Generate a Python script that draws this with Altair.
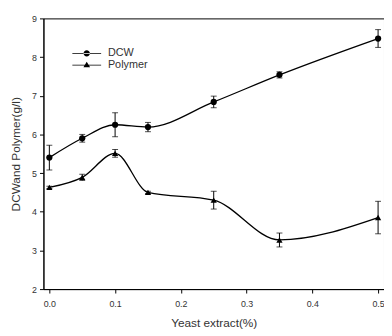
import altair as alt
import pandas as pd

x_vals = [0.0, 0.05, 0.1, 0.15, 0.25, 0.35, 0.5]
dcw = [5.40, 5.90, 6.25, 6.19, 6.84, 7.54, 8.48]
dcw_err = [0.32, 0.10, 0.31, 0.12, 0.15, 0.08, 0.23]
polymer = [4.63, 4.89, 5.51, 4.50, 4.30, 3.27, 3.85]
polymer_err = [0.03, 0.08, 0.10, 0.03, 0.23, 0.18, 0.42]
series_names = ["DCW", "Polymer"]
x_ticks = [0.0, 0.1, 0.2, 0.3, 0.4, 0.5]
y_ticks = [2, 3, 4, 5, 6, 7, 8, 9]

rows = []
for s, vals, errs in [("DCW", dcw, dcw_err), ("Polymer", polymer, polymer_err)]:
    for xv, v, e in zip(x_vals, vals, errs):
        rows.append({"x": xv, "y": v, "lo": v - e, "hi": v + e, "series": s})
df = pd.DataFrame(rows)

FONT = "Liberation Sans"
TXT = "#333333"

xscale = alt.Scale(domain=[-0.009, 0.509], nice=False, zero=False)
yscale = alt.Scale(domain=[2, 9], nice=False, zero=False)
xaxis = alt.Axis(values=x_ticks, format=".1f", title="Yeast extract(%)",
                 grid=False, tickSize=4, labelPadding=7, titlePadding=9)
yaxis = alt.Axis(values=y_ticks, format="d", title="DCWand Polymer(g/l)",
                 grid=False, tickSize=4, labelPadding=3, titlePadding=9)

xenc = alt.X("x:Q", scale=xscale, axis=xaxis)
yenc = alt.Y("y:Q", scale=yscale, axis=yaxis)

base = alt.Chart(df)

lines = base.mark_line(color="black", strokeWidth=1.3, interpolate="monotone").encode(
    x=xenc, y=yenc, detail="series:N")

err = base.mark_errorbar(ticks=alt.TickConfig(size=6, thickness=1), color="black", thickness=1).encode(
    x=xenc, y=alt.Y("lo:Q", scale=yscale, axis=yaxis), y2="hi:Q")

points = base.mark_point(filled=True, color="black", size=40, opacity=1).encode(
    x=xenc, y=yenc,
    shape=alt.Shape("series:N", scale=alt.Scale(domain=series_names, range=["circle", "triangle-up"]),
                    legend=None))

# legend glyphs: thin filled bar + marker (all filled)
dcw_sym = ("M-2.25,-0.05L2.25,-0.05L2.25,0.05L-2.25,0.05Z"
           "M-0.5,0A0.5,0.5 0 1,0 0.5,0A0.5,0.5 0 1,0 -0.5,0Z")
poly_sym = ("M-2.25,-0.05L2.25,-0.05L2.25,0.05L-2.25,0.05Z"
            "M-0.52,0.32L0,-0.55L0.52,0.32Z")

legend_layer = base.mark_point(filled=True, color="black", opacity=0).encode(
    x=xenc, y=yenc,
    shape=alt.Shape("series:N", scale=alt.Scale(domain=series_names, range=[dcw_sym, poly_sym]),
                    legend=alt.Legend(orient="none", legendX=37.5, legendY=29, title=None,
                                      symbolOpacity=1, symbolFillColor="black",
                                      symbolStrokeWidth=0,
                                      symbolSize=169, labelFont=FONT, labelFontSize=11,
                                      labelColor=TXT, labelOffset=15, rowPadding=-2)))

chart = alt.layer(lines, err, points, legend_layer).resolve_scale(shape="independent").properties(
    width=346, height=275, autosize="none",
    padding={"left": 36, "top": 8, "right": 0, "bottom": 40}
).configure_view(stroke="black", strokeWidth=1).configure_axis(
    domainColor="black", tickColor="black", labelFont=FONT, labelFontSize=9,
    labelColor=TXT, titleFont=FONT, titleFontSize=12, titleColor=TXT, titleFontWeight="normal"
)

chart.save("out.html", embed_options={"renderer": "svg", "actions": False})
